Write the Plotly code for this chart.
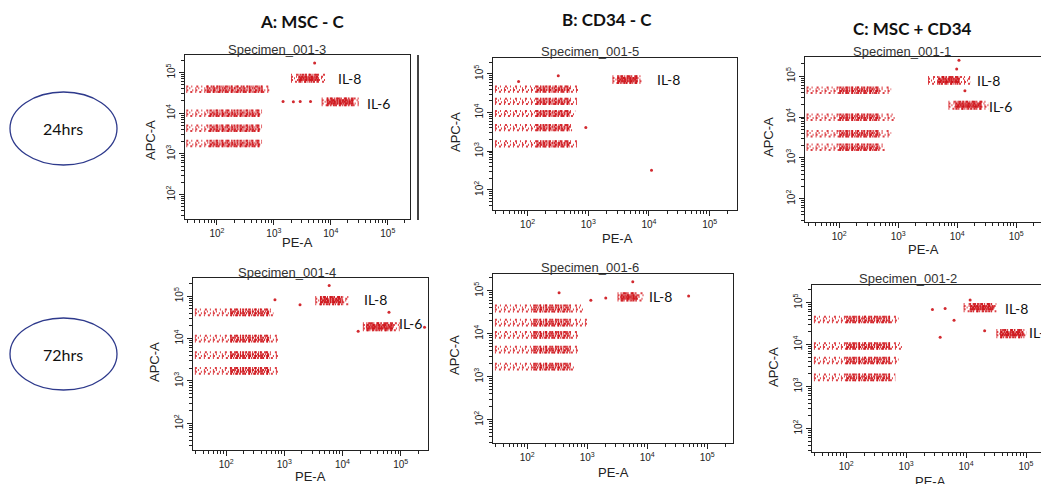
import math
import plotly.graph_objects as go

W, H = 1041, 484

# ---------------- DATA (intensities in raw units) ----------------
# Each bead row / cytokine cluster: [pe_low, pe_core_low, pe_core_high, pe_high]
A24_bead_apc = [39000, 10000, 4300, 1800]
A24_bead_pe = [[29, 66, 650, 850], [29, 74, 560, 620], [29, 74, 560, 620], [29, 74, 560, 620]]
A24_cyto_name = ["IL-8", "IL-6"]
A24_cyto_apc = [72000, 19000]
A24_cyto_pe = [[2000, 2700, 6000, 8000], [6900, 8500, 25000, 31000]]
A24_label_pe = [12500, 40000]
A24_label_apc = [72000, 17500]
A24_out_pe = [1450, 2200, 2900, 4400, 5200]
A24_out_apc = [19500, 19000, 19500, 19500, 170000]

B24_bead_apc = [40700, 19500, 9500, 4100, 1550]
B24_bead_pe = [[29, 140, 500, 690], [29, 140, 500, 650], [29, 140, 500, 610], [29, 140, 500, 540], [29, 140, 500, 650]]
B24_cyto_name = ["IL-8"]
B24_cyto_apc = [71000]
B24_cyto_pe = [[2500, 3000, 6500, 7600]]
B24_label_pe = [12600]
B24_label_apc = [70000]
B24_out_pe = [11000, 320, 71, 910]
B24_out_apc = [320, 90000, 63000, 4100]

C24_bead_apc = [45700, 10000, 3900, 1820]
C24_bead_pe = [[28, 100, 470, 760], [28, 100, 470, 890], [28, 100, 470, 760], [28, 100, 470, 590]]
C24_cyto_name = ["IL-8", "IL-6"]
C24_cyto_apc = [79000, 19500]
C24_cyto_pe = [[3200, 4800, 11000, 16600], [7100, 9300, 26000, 34000]]
C24_label_pe = [20000, 32000]
C24_label_apc = [79000, 18500]
C24_out_pe = [10700, 9800, 13500]
C24_out_apc = [245000, 150000, 44000]

A72_bead_apc = [41700, 10000, 4100, 1740]
A72_bead_pe = [[29, 117, 560, 650], [29, 117, 560, 790], [29, 117, 560, 790], [29, 117, 560, 790]]
A72_cyto_name = ["IL-8", "IL-6"]
A72_cyto_apc = [79000, 19000]
A72_cyto_pe = [[3400, 4100, 10000, 12600], [22400, 25700, 74000, 96000]]
A72_label_pe = [22000, 85000]
A72_label_apc = [85000, 23000]
A72_out_pe = [5900, 690, 1860, 63000, 18600, 257000]
A72_out_apc = [178000, 83000, 63000, 41700, 14800, 18600]

B72_bead_apc = [38900, 18200, 9500, 4300, 1740]
B72_bead_pe = [[29, 126, 525, 870], [29, 126, 525, 1000], [29, 126, 525, 720], [29, 126, 525, 720], [29, 126, 525, 600]]
B72_cyto_name = ["IL-8"]
B72_cyto_apc = [72000]
B72_cyto_pe = [[3200, 3600, 6900, 8900]]
B72_label_pe = [9800]
B72_label_apc = [72000]
B72_out_pe = [49000, 5750, 1150, 2040, 340]
B72_out_apc = [76000, 162000, 60000, 68000, 90000]

C72_bead_apc = [39800, 9300, 4200, 1660]
C72_bead_pe = [[29, 100, 540, 750], [29, 100, 540, 850], [29, 100, 540, 750], [29, 100, 540, 660]]
C72_cyto_name = ["IL-8", "IL-6"]
C72_cyto_apc = [76000, 18200]
C72_cyto_pe = [[9100, 11700, 29000, 32000], [32000, 37000, 91000, 102000]]
C72_label_pe = [42000, 102000]
C72_label_apc = [72000, 19500]
C72_out_pe = [2750, 4470, 6300, 3700, 20400, 11700]
C72_out_apc = [69000, 72000, 38000, 15000, 21400, 115000]

SPECIMENS = ["Specimen_001-3", "Specimen_001-5", "Specimen_001-1",
             "Specimen_001-4", "Specimen_001-6", "Specimen_001-2"]
COLUMN_TITLES = ["A: MSC - C", "B: CD34 - C", "C: MSC + CD34"]
TIME_LABELS = ["24hrs", "72hrs"]
X_TITLE = "PE-A"
Y_TITLE = "APC-A"
DECADES = [2, 3, 4, 5]

PANELS = [
    (A24_bead_apc, A24_bead_pe, A24_cyto_name, A24_cyto_apc, A24_cyto_pe, A24_label_pe, A24_label_apc, A24_out_pe, A24_out_apc),
    (B24_bead_apc, B24_bead_pe, B24_cyto_name, B24_cyto_apc, B24_cyto_pe, B24_label_pe, B24_label_apc, B24_out_pe, B24_out_apc),
    (C24_bead_apc, C24_bead_pe, C24_cyto_name, C24_cyto_apc, C24_cyto_pe, C24_label_pe, C24_label_apc, C24_out_pe, C24_out_apc),
    (A72_bead_apc, A72_bead_pe, A72_cyto_name, A72_cyto_apc, A72_cyto_pe, A72_label_pe, A72_label_apc, A72_out_pe, A72_out_apc),
    (B72_bead_apc, B72_bead_pe, B72_cyto_name, B72_cyto_apc, B72_cyto_pe, B72_label_pe, B72_label_apc, B72_out_pe, B72_out_apc),
    (C72_bead_apc, C72_bead_pe, C72_cyto_name, C72_cyto_apc, C72_cyto_pe, C72_label_pe, C72_label_apc, C72_out_pe, C72_out_apc),
]

# ---------------- LAYOUT GEOMETRY (pixels) ----------------
# (x0, x1, xrange_log, y0_top, y1_bottom, yrange_log)
GEOM = [
    (185, 410, [1.44, 5.39], 55, 219, [1.40, 5.43]),
    (493, 737, [1.43, 5.45], 58, 210, [1.48, 5.41]),
    (805, 1041, [1.42, 5.42], 57, 222, [1.43, 5.47]),
    (193, 428, [1.43, 5.47], 278, 450, [1.37, 5.43]),
    (493, 733, [1.43, 5.43], 274, 443, [1.46, 5.39]),
    (812, 1041, [1.43, 5.25], 285, 452, [1.44, 5.42]),
]
SPEC_POS = [(277, 49), (590, 52), (902, 51), (287, 272), (590, 267), (908, 278)]
XT_POS = [(297, 242), (617, 238), (923, 250), (310, 476), (613, 472), (930, 481)]
YT_POS = [(151, 140), (455, 132), (768, 137), (154, 362), (454, 355), (773, 367)]
COL_POS = [(302, 22), (607, 20), (912, 28)]

RED_CORE = "rgba(205,18,24,0.9)"
RED_TAIL = "rgba(214,30,36,0.85)"
ARIAL = "Liberation Sans, Arial, sans-serif"
CALIBRI = "Lato, Open Sans, sans-serif"

# speckle rendering of a band: sub-lines offset (in decades) with irregular dash patterns
BEAD_OFFSETS = [-0.07, -0.025, 0.02, 0.065]
CYTO_OFFSETS = [-0.085, -0.04, 0.0, 0.04, 0.085]
TAIL_DASHES = ["1px,3px,2px,3px", "2px,4px,1px,2px", "1px,2px,1px,5px", "2px,3px,1px,4px", "1px,4px,2px,2px"]
CORE_DASHES = ["2px,1px,1px,2px", "3px,1px,1px,1px", "1px,1px,2px,1px", "2px,2px,1px,1px", "1px,2px,3px,1px"]


def px(x):
    return x / W


def py(y):
    return 1 - y / H


fig = go.Figure()
layout_axes = {}
annotations = []

minor_vals = [m * 10 ** d for d in range(1, 6) for m in range(2, 10)]
major_vals = [10 ** d for d in DECADES]
major_text = ["10<sup>%d</sup>" % d for d in DECADES]


def band(xa, ya, lo, hi, apc, width, dash, color):
    fig.add_trace(go.Scatter(x=[lo, hi], y=[apc, apc], mode="lines",
                             line=dict(color=color, width=width, dash=dash),
                             xaxis=xa, yaxis=ya, showlegend=False, hoverinfo="skip"))


def speckled(xa, ya, lo, clo, chi, hi, apc, offsets):
    for j, off in enumerate(offsets):
        yv = apc * 10 ** off
        band(xa, ya, lo, hi, yv, 2, TAIL_DASHES[j % len(TAIL_DASHES)], RED_TAIL)
        band(xa, ya, clo, chi, yv, 2, CORE_DASHES[j % len(CORE_DASHES)], RED_CORE)


for i, (panel, geom) in enumerate(zip(PANELS, GEOM)):
    bead_apc, bead_pe, cname, capc, cpe, lpe, lapc, ope, oapc = panel
    x0, x1, xr, y0, y1, yr = geom
    k = "" if i == 0 else str(i + 1)
    xa, ya = "x" + k, "y" + k

    for apc, (lo, clo, chi, hi) in zip(bead_apc, bead_pe):
        speckled(xa, ya, lo, clo, chi, hi, apc, BEAD_OFFSETS)
    for apc, (lo, clo, chi, hi) in zip(capc, cpe):
        speckled(xa, ya, lo, clo, chi, hi, apc, CYTO_OFFSETS)
        band(xa, ya, clo, chi, apc, 5, "solid", "rgba(205,18,24,0.55)")
    fig.add_trace(go.Scatter(x=ope, y=oapc, mode="markers",
                             marker=dict(color=RED_CORE, size=3),
                             xaxis=xa, yaxis=ya, showlegend=False, hoverinfo="skip"))
    for name, lx, ly in zip(cname, lpe, lapc):
        annotations.append(dict(x=math.log10(lx), y=math.log10(ly),
                                xref=xa, yref=ya, text=name, showarrow=False,
                                xanchor="left", yanchor="middle",
                                font=dict(family=CALIBRI, size=14, color="#111")))

    axis_common = dict(type="log", showline=True, mirror=True, linecolor="#222", linewidth=1.2,
                       showgrid=False, zeroline=False, ticks="outside", ticklen=5, tickwidth=1,
                       tickcolor="#222", tickmode="array", tickvals=major_vals, ticktext=major_text,
                       tickfont=dict(family=ARIAL, size=10, color="#222"),
                       minor=dict(ticks="outside", ticklen=3, tickwidth=1, tickcolor="#222",
                                  tickmode="array", tickvals=minor_vals, showgrid=False))
    layout_axes["xaxis" + k] = dict(axis_common, domain=[px(x0), px(x1)], range=xr, anchor=ya)
    layout_axes["yaxis" + k] = dict(axis_common, domain=[py(y1), py(y0)], range=yr, anchor=xa,
                                    tickangle=-90)

    sx, sy = SPEC_POS[i]
    annotations.append(dict(x=px(sx), y=py(sy), xref="paper", yref="paper", text=SPECIMENS[i],
                            showarrow=False, xanchor="center", yanchor="middle",
                            font=dict(family=ARIAL, size=13, color="#333")))
    tx, ty = XT_POS[i]
    annotations.append(dict(x=px(tx), y=py(ty), xref="paper", yref="paper", text=X_TITLE,
                            showarrow=False, xanchor="center", yanchor="middle",
                            font=dict(family=ARIAL, size=13, color="#222")))
    tx, ty = YT_POS[i]
    annotations.append(dict(x=px(tx), y=py(ty), xref="paper", yref="paper", text=Y_TITLE,
                            showarrow=False, xanchor="center", yanchor="middle", textangle=-90,
                            font=dict(family=ARIAL, size=13, color="#222")))

for (cx, cy), t in zip(COL_POS, COLUMN_TITLES):
    annotations.append(dict(x=px(cx), y=py(cy), xref="paper", yref="paper", text="<b>%s</b>" % t,
                            showarrow=False, xanchor="center", yanchor="middle",
                            font=dict(family=CALIBRI, size=17, color="#111")))

shapes = [dict(type="line", xref="paper", yref="paper", x0=px(418), x1=px(418),
               y0=py(220), y1=py(55), line=dict(color="#444", width=2))]
for (ey0, ey1), t in zip([(92, 165), (318, 390)], TIME_LABELS):
    shapes.append(dict(type="circle", xref="paper", yref="paper",
                       x0=px(10), x1=px(117), y0=py(ey1), y1=py(ey0),
                       line=dict(color="#2e3a8c", width=1.3)))
    annotations.append(dict(x=px(63), y=py((ey0 + ey1) / 2), xref="paper", yref="paper", text=t,
                            showarrow=False, xanchor="center", yanchor="middle",
                            font=dict(family=CALIBRI, size=16, color="#111")))

fig.update_layout(width=W, height=H, margin=dict(l=0, r=0, t=0, b=0),
                  paper_bgcolor="white", plot_bgcolor="white",
                  annotations=annotations, shapes=shapes, **layout_axes)

fig.write_html("out.html", config={"displayModeBar": False, "staticPlot": True},
               post_script="document.body.style.margin='0';document.body.style.overflow='hidden';")
